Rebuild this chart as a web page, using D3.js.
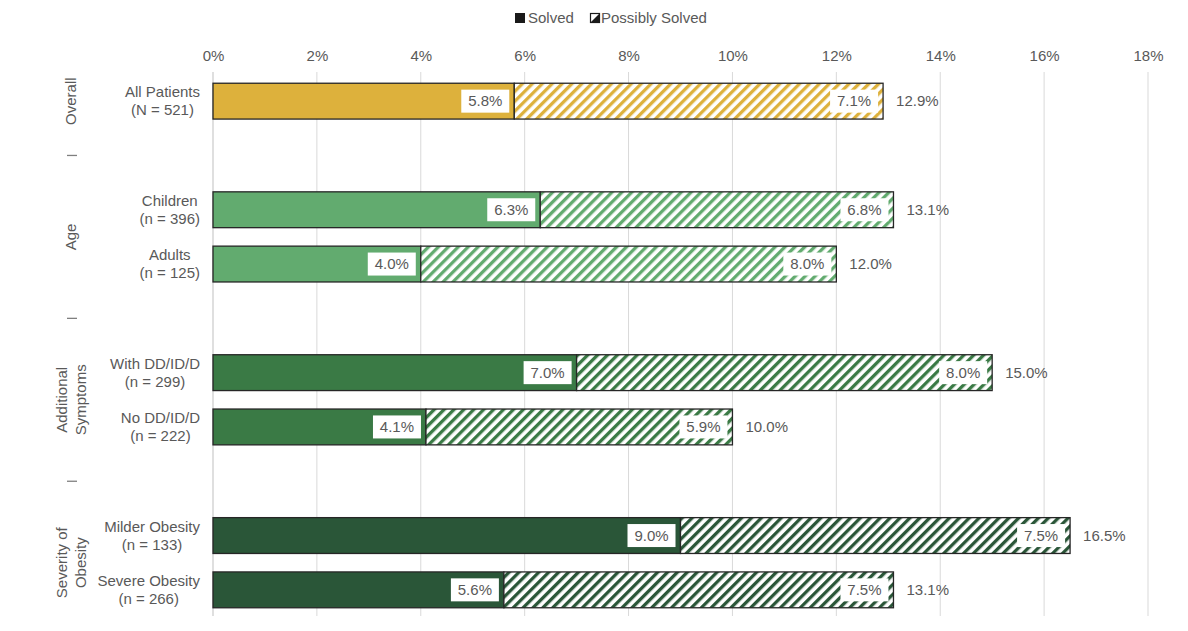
<!DOCTYPE html>
<html>
<head>
<meta charset="utf-8">
<script src="https://cdn.jsdelivr.net/npm/d3@7"></script>
<style>
  body { margin: 0; background: #fff; }
  text { font-family: "Liberation Sans", Arial, sans-serif; fill: #595959; }
</style>
</head>
<body>
<svg id="chart" width="1188" height="631"></svg>
<script>
// rows, including empty spacer rows between groups
const rows = ["all", "gap1", "children", "adults", "gap2", "withdd", "nodd", "gap3", "milder", "severe"];
const barRows = ["all", "children", "adults", "withdd", "nodd", "milder", "severe"];
const rowLabels = [
    ["All Patients", "(N = 521)"],
    ["Children", "(n = 396)"],
    ["Adults", "(n = 125)"],
    ["With DD/ID/D", "(n = 299)"],
    ["No DD/ID/D", "(n = 222)"],
    ["Milder Obesity", "(n = 133)"],
    ["Severe Obesity", "(n = 266)"]
];
const solved = [5.8, 6.3, 4.0, 7.0, 4.1, 9.0, 5.6];
const possibly = [7.1, 6.8, 8.0, 8.0, 5.9, 7.5, 7.5];
const totals = [12.9, 13.1, 12.0, 15.0, 10.0, 16.5, 13.1];
const barGroup = [0, 1, 1, 2, 2, 3, 3];

const groups = [
    { lines: ["Overall"], from: "all", to: "all" },
    { lines: ["Age"], from: "children", to: "adults" },
    { lines: ["Additional", "Symptoms"], from: "withdd", to: "nodd" },
    { lines: ["Severity of", "Obesity"], from: "milder", to: "severe" }
];
const separators = ["gap1", "gap2", "gap3"];
const groupColors = ["#DDB13C", "#62AB6F", "#3A7A45", "#2A5638"];
const xTicks = [0, 2, 4, 6, 8, 10, 12, 14, 16, 18];

const FS = "15px";
const svg = d3.select("svg#chart");

const x = d3.scaleLinear().domain([0, 18]).range([213, 1148]);
const y = d3.scaleBand().domain(rows).range([74, 617]).paddingInner(0.34).paddingOuter(0.17);

// hatch patterns, one per group colour
const defs = svg.append("defs");
groupColors.forEach((c, i) => {
    const p = defs.append("pattern")
        .attr("id", "hatch" + i)
        .attr("patternUnits", "userSpaceOnUse")
        .attr("width", 7)
        .attr("height", 7)
        .attr("patternTransform", "rotate(45)");
    p.append("rect").attr("width", 7).attr("height", 7).attr("fill", "#fff");
    p.append("rect").attr("width", 3.3).attr("height", 7).attr("fill", c);
});

// gridlines
svg.append("g")
    .selectAll("line")
    .data(xTicks)
    .enter().append("line")
    .attr("x1", d => x(d)).attr("x2", d => x(d))
    .attr("y1", 72).attr("y2", 616)
    .style("stroke", (d) => d === 0 ? "#bfbfbf" : "#d9d9d9")
    .style("stroke-width", 1);

// top axis labels
const xAxis = svg.append("g")
    .attr("transform", "translate(0,61)")
    .call(d3.axisTop(x).tickValues(xTicks).tickFormat(d => d + "%").tickSize(0).tickPadding(0));
xAxis.select(".domain").remove();
xAxis.selectAll("text")
    .style("font-size", FS)
    .style("fill", "#595959")
    .style("font-family", "'Liberation Sans', Arial, sans-serif");

const bars = svg.append("g");
barRows.forEach((r, i) => {
    const y0 = y(r);
    const h = y.bandwidth();
    const col = groupColors[barGroup[i]];

    // solved segment
    bars.append("rect")
        .attr("x", x(0)).attr("y", y0)
        .attr("width", x(solved[i]) - x(0)).attr("height", h)
        .attr("fill", col)
        .style("stroke", "#262626").style("stroke-width", 1.3);

    // possibly solved segment
    bars.append("rect")
        .attr("x", x(solved[i])).attr("y", y0)
        .attr("width", x(solved[i] + possibly[i]) - x(solved[i])).attr("height", h)
        .attr("fill", "url(#hatch" + barGroup[i] + ")")
        .style("stroke", "#262626").style("stroke-width", 1.3);

    // value labels in white boxes
    [[solved[i], solved[i]], [possibly[i], solved[i] + possibly[i]]].forEach(([v, end]) => {
        const bw = 48, bh = 23;
        const bx = x(end) - 5 - bw;
        bars.append("rect")
            .attr("x", bx).attr("y", y0 + h / 2 - bh / 2)
            .attr("width", bw).attr("height", bh)
            .attr("fill", "#fff");
        bars.append("text")
            .attr("x", bx + bw / 2).attr("y", y0 + h / 2)
            .attr("dy", "0.35em")
            .attr("text-anchor", "middle")
            .style("font-size", FS)
            .text(v.toFixed(1) + "%");
    });

    // total label
    bars.append("text")
        .attr("x", x(totals[i]) + 13).attr("y", y0 + h / 2)
        .attr("dy", "0.35em")
        .style("font-size", FS)
        .text(totals[i].toFixed(1) + "%");

    // category label: lines centred on each other, block right-aligned
    const lbl = bars.append("text")
        .attr("text-anchor", "middle")
        .style("font-size", FS);
    const spans = rowLabels[i].map((t, k) =>
        lbl.append("tspan")
            .attr("y", y0 + h / 2 + (k === 0 ? -9 : 9))
            .attr("dy", "0.35em")
            .text(t));
    const maxW = d3.max(spans, s => s.node().getComputedTextLength());
    spans.forEach(s => s.attr("x", 200 - maxW / 2));
});

// group labels, rotated
groups.forEach(g => {
    const cy = (y(g.from) + y(g.to) + y.bandwidth()) / 2;
    const t = svg.append("text")
        .attr("transform", `translate(71,${cy}) rotate(-90)`)
        .attr("text-anchor", "middle")
        .style("font-size", FS);
    const n = g.lines.length;
    g.lines.forEach((s, k) => {
        t.append("tspan")
            .attr("x", 0)
            .attr("y", (k - (n - 1) / 2) * 19)
            .attr("dy", "0.35em")
            .text(s);
    });
});

// small separator dashes between groups
svg.append("g")
    .selectAll("line")
    .data(separators)
    .enter().append("line")
    .attr("x1", 67).attr("x2", 77)
    .attr("y1", d => y(d) + y.bandwidth() / 2)
    .attr("y2", d => y(d) + y.bandwidth() / 2)
    .style("stroke", "#7f7f7f")
    .style("stroke-width", 1.3);

// legend
const legend = svg.append("g").attr("transform", "translate(515,18)");
legend.append("rect").attr("x", 0).attr("y", -5).attr("width", 10).attr("height", 10)
    .attr("fill", "#1a1a1a");
legend.append("text").attr("x", 13).attr("dy", "0.35em").style("font-size", FS).text("Solved");
legend.append("rect").attr("x", 75.5).attr("y", -4.5).attr("width", 9).attr("height", 9)
    .attr("fill", "#fff").style("stroke", "#1a1a1a").style("stroke-width", 1.2);
legend.append("path").attr("d", "M75.5,4.5 L84.5,-4.5 L84.5,4.5 Z").attr("fill", "#1a1a1a");
legend.append("text").attr("x", 86).attr("dy", "0.35em").style("font-size", FS).text("Possibly Solved");
</script>
</body>
</html>
